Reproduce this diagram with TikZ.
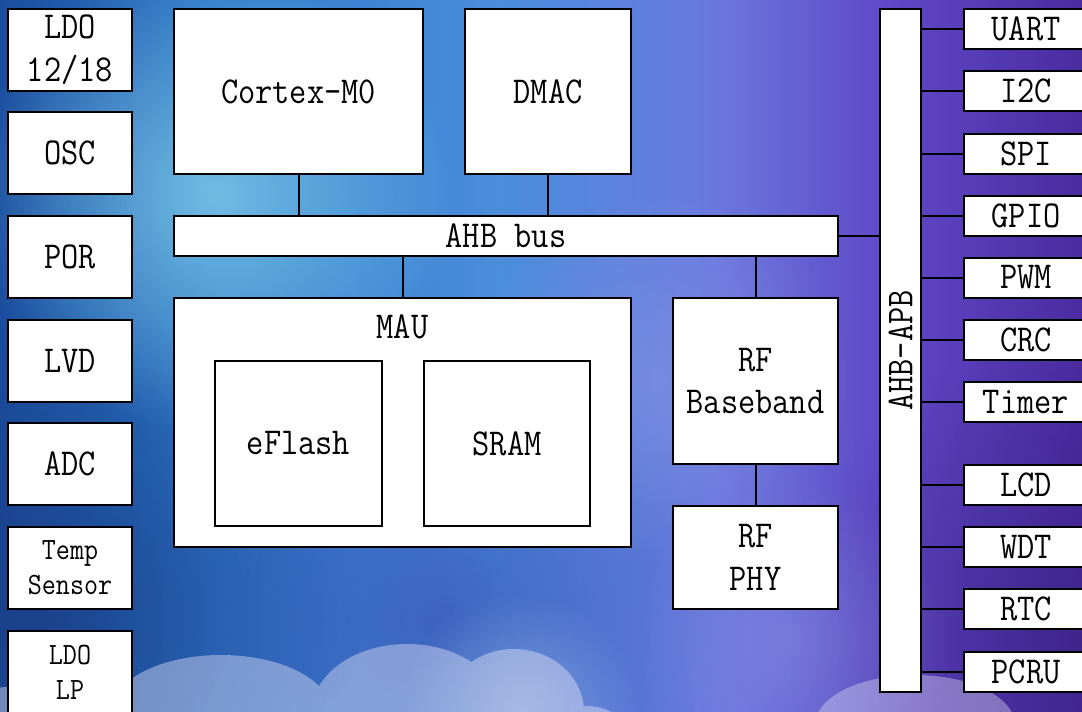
\documentclass[tikz,border=0pt]{standalone}
\usepackage{fontspec}
\setmainfont[FakeStretch=0.88]{Latin Modern Mono}
\usetikzlibrary{fadings}
\tikzfading[name=glowfade, inner color=transparent!0, outer color=transparent!100]
\definecolor{bgA}{HTML}{1B4E9E}
\definecolor{bgB}{HTML}{2D78C8}
\definecolor{bgC}{HTML}{4A8EDC}
\definecolor{bgD}{HTML}{6A78DE}
\definecolor{bgE}{HTML}{6048C8}
\definecolor{bgF}{HTML}{4A2CA0}
\definecolor{glowA}{HTML}{7CC8E8}
\definecolor{glowB}{HTML}{8C98E4}
\definecolor{darkA}{HTML}{1A3A82}
\definecolor{darkB}{HTML}{38207E}
\definecolor{darkC}{HTML}{3A4CB0}
\definecolor{cloudA}{HTML}{DCDCF4}
\pgfdeclarehorizontalshading{bgshade}{100bp}{color(0bp)=(bgA); color(25bp)=(bgA); color(35bp)=(bgB); color(48bp)=(bgC); color(58bp)=(bgD); color(66bp)=(bgE); color(75bp)=(bgF); color(100bp)=(bgF)}
\tikzset{
  blk/.style={draw=black, fill=white, line width=2pt, inner sep=0pt, align=center, font=\fontsize{38}{43}\selectfont},
  side/.style={blk, minimum width=124pt, minimum height=82pt},
  small/.style={font=\fontsize{31}{35}\selectfont},
  per/.style={blk, minimum width=124pt, minimum height=40pt},
  wire/.style={line width=2pt, draw=black},
  glow/.style={path fading=glowfade}
}
\begin{document}
\begin{tikzpicture}[x=1pt,y=-1pt]
\useasboundingbox (0,0) rectangle (1082,712);
\clip (0,0) rectangle (1082,712);
% background
\shade[shading=bgshade] (0,0) rectangle (1082,712);
\fill[glow, darkA, opacity=0.7] (40,620) circle (320);
\fill[glow, darkC, opacity=0.6] (440,620) circle (300);
\fill[glow, darkB, opacity=0.6] (1082,640) circle (300);
\fill[glow, glowA, opacity=0.85] (215,195) circle (240);
\fill[glow, glowB, opacity=0.5] (660,380) circle (190);
\fill[glow, glowB, opacity=0.45] (790,640) circle (160);
% clouds
\fill[cloudA, fill opacity=0.45]
  (40,730) ellipse [x radius=120, y radius=45]
  (221,712) ellipse [x radius=110, y radius=57]
  (407,712) ellipse [x radius=95, y radius=68]
  (514,712) ellipse [x radius=70, y radius=63]
  (585,718) ellipse [x radius=30, y radius=12];
\fill[glow, white, opacity=0.25] (520,712) circle (120);
\fill[cloudA, fill opacity=0.4] (915,725) ellipse [x radius=100, y radius=50];
% left column
\node[side] (ldo) at (70,50) {LDO\\12/18};
\node[side] (osc) at (70,153) {OSC};
\node[side] (por) at (70,257) {POR};
\node[side] (lvd) at (70,361) {LVD};
\node[side] (adc) at (70,464) {ADC};
\node[side, small] (temp) at (70,568) {Temp\\Sensor};
\node[side, small] (ldolp) at (70,672) {LDO\\LP};
% core
\node[blk, minimum width=249pt, minimum height=165pt] (cpu) at (298.5,91.5) {Cortex-M0};
\node[blk, minimum width=166pt, minimum height=165pt] (dmac) at (548,91.5) {DMAC};
\node[blk, minimum width=664pt, minimum height=40pt] (ahb) at (506,236) {AHB bus};
\node[blk, minimum width=457pt, minimum height=249pt] (mau) at (402.5,422.5) {};
\node[font=\fontsize{38}{43}\selectfont] (maul) at (402.5,327) {MAU};
\node[blk, minimum width=167pt, minimum height=165pt] (eflash) at (298.5,443.5) {eFlash};
\node[blk, minimum width=166pt, minimum height=165pt] (sram) at (507,443.5) {SRAM};
\node[blk, minimum width=165pt, minimum height=166pt] (rfbb) at (755.5,381) {RF\\Baseband};
\node[blk, minimum width=165pt, minimum height=103pt] (rfphy) at (755.5,557.5) {RF\\PHY};
\node[blk, minimum width=41pt, minimum height=683pt] (apb) at (900.5,350.5) {};
\node[rotate=90, font=\fontsize{38}{43}\selectfont] (apbl) at (900.5,350.5) {AHB-APB};
% peripherals
\node[per] (uart) at (1026,29) {UART};
\node[per] (i2c) at (1026,91) {I2C};
\node[per] (spi) at (1026,153.5) {SPI};
\node[per] (gpio) at (1026,215.5) {GPIO};
\node[per] (pwm) at (1026,277.5) {PWM};
\node[per] (crc) at (1026,340) {CRC};
\node[per] (timer) at (1026,402) {Timer};
\node[per] (lcd) at (1026,485) {LCD};
\node[per] (wdt) at (1026,547) {WDT};
\node[per] (rtc) at (1026,609) {RTC};
\node[per] (pcru) at (1026,671.5) {PCRU};
% wires
\draw[wire] (cpu.south) -- (cpu.south |- ahb.north);
\draw[wire] (dmac.south) -- (dmac.south |- ahb.north);
\coordinate (mautop) at (403,298);
\draw[wire] (mautop |- ahb.south) -- (mautop);
\draw[wire] (rfbb.north |- ahb.south) -- (rfbb.north);
\draw[wire] (rfbb.south) -- (rfphy.north);
\draw[wire] (ahb.east) -- (ahb.east -| apb.west);
\foreach \p in {uart,i2c,spi,gpio,pwm,crc,timer,lcd,wdt,rtc,pcru}
  \draw[wire] (apb.east |- \p.west) -- (\p.west);
\end{tikzpicture}
\end{document}
